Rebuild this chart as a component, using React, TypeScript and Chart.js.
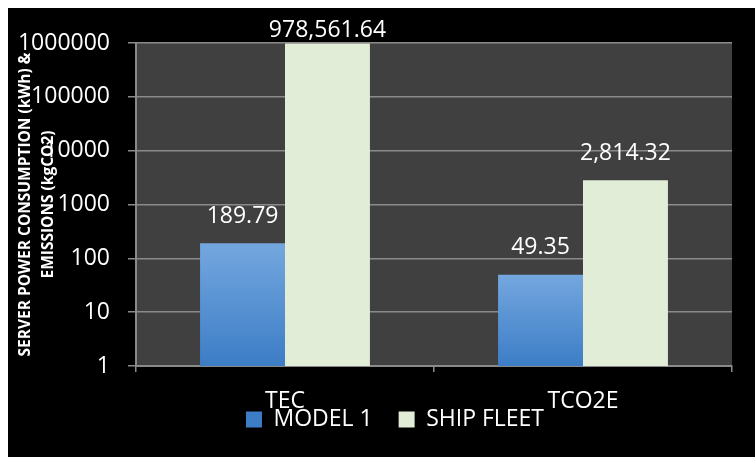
import React, { useEffect, useRef } from "react";
import { Chart, registerables } from "chart.js";

Chart.register(...registerables);

const categories = ["TEC", "TCO2E"];
const seriesNames = ["MODEL 1", "SHIP FLEET"];
const model1 = [189.79, 49.35];
const shipFleet = [978561.64, 2814.32];
const yTicks = [1, 10, 100, 1000, 10000, 100000, 1000000];
const yTitle = ["SERVER POWER CONSUMPTION (kWh) &", "EMISSIONS (kgCO2)"];

const FONT = "'Open Sans', 'Liberation Sans', sans-serif";
const GRID = "#8a8a8a";
const PLOT_BG = "#404040";

const fmt = (v: number) =>
  v.toLocaleString("en-US", { minimumFractionDigits: 2, maximumFractionDigits: 2 });

// vertical gradient for each blue bar, light at the top, deeper at the base
function blueFill(c: any) {
  const chart = c.chart;
  const area = chart.chartArea;
  if (!area || c.type !== "data" || c.raw == null) return "#4f8ad2";
  const top = chart.scales.y.getPixelForValue(c.raw);
  const g = chart.ctx.createLinearGradient(0, top, 0, area.bottom);
  g.addColorStop(0, "#74a7df");
  g.addColorStop(1, "#3c7dc6");
  return g;
}

const plotBackground = {
  id: "plotBackground",
  beforeDraw(chart: any) {
    const { ctx, chartArea: a } = chart;
    if (!a) return;
    ctx.save();
    ctx.fillStyle = PLOT_BG;
    ctx.fillRect(a.left, a.top, a.right - a.left, a.bottom - a.top);
    ctx.restore();
  },
};

const valueLabels = {
  id: "valueLabels",
  afterDatasetsDraw(chart: any) {
    const { ctx, chartArea } = chart;
    ctx.save();
    ctx.font = `23px ${FONT}`;
    ctx.fillStyle = "#ffffff";
    ctx.textAlign = "center";
    ctx.textBaseline = "middle";
    chart.data.datasets.forEach((ds: any, di: number) => {
      chart.getDatasetMeta(di).data.forEach((el: any, i: number) => {
        const y = Math.max(el.y - 27, chartArea.top - 13);
        ctx.fillText(fmt(ds.data[i]), el.x, y);
      });
    });
    ctx.restore();
  },
};

// pulls the legend up snug under the category labels and a bit right of centre;
// only the top edge moves so the legend's clip box still covers its items
const legendOffset = {
  id: "legendOffset",
  afterLayout(chart: any) {
    const lg = chart.legend;
    if (lg) {
      lg.left += 25;
      lg.right += 25;
      lg.top -= 32;
    }
  },
};

export default function App() {
  const canvasRef = useRef<HTMLCanvasElement | null>(null);

  useEffect(() => {
    if (!canvasRef.current) return;
    const chart = new Chart(canvasRef.current, {
      type: "bar",
      data: {
        labels: categories,
        datasets: [
          {
            label: seriesNames[0],
            data: model1,
            backgroundColor: blueFill as any,
            borderWidth: 0,
          },
          {
            label: seriesNames[1],
            data: shipFleet,
            backgroundColor: "#e1edd7",
            borderWidth: 0,
          },
        ],
      },
      options: {
        animation: false,
        responsive: false,
        devicePixelRatio: 1,
        layout: { padding: { top: 35, right: 23, bottom: 18, left: 0 } },
        datasets: {
          bar: { categoryPercentage: 0.57, barPercentage: 1 },
        },
        scales: {
          x: {
            type: "category",
            offset: true,
            grid: {
              display: true,
              offset: true,
              drawOnChartArea: false,
              drawTicks: true,
              tickLength: 6,
              color: GRID,
              lineWidth: 1.5,
            },
            border: { display: true, color: GRID, width: 2 },
            ticks: {
              color: "#ffffff",
              font: { family: FONT, size: 23 },
              padding: 16,
              maxRotation: 0,
              autoSkip: false,
            },
            afterFit(s: any) {
              s.height = 48;
            },
          },
          y: {
            type: "logarithmic",
            min: 1,
            max: 1000000,
            afterBuildTicks(s: any) {
              s.ticks = yTicks.map((v) => ({ value: v }));
            },
            ticks: {
              color: "#ffffff",
              font: { family: FONT, size: 23 },
              padding: 18,
              autoSkip: false,
              callback: (v: any) => String(v),
            },
            grid: {
              color: GRID,
              lineWidth: 1.5,
              tickLength: 8,
              drawTicks: true,
            },
            border: { display: true, color: GRID, width: 2 },
            title: {
              display: true,
              text: yTitle,
              color: "#ffffff",
              font: { family: FONT, size: 15.5, weight: "bold", lineHeight: 1.5 },
              padding: { top: 6, bottom: 0 },
            },
            afterFit(s: any) {
              s.width = 128;
            },
          },
        },
        plugins: {
          legend: {
            position: "bottom",
            maxHeight: 25,
            labels: {
              color: "#ffffff",
              font: { family: FONT, size: 23 },
              boxWidth: 16,
              boxHeight: 16,
              padding: 26,
            },
          },
          tooltip: { enabled: false },
        },
      },
      plugins: [plotBackground, valueLabels, legendOffset],
    });
    return () => chart.destroy();
  }, []);

  return (
    <div
      style={{
        position: "absolute",
        left: 8,
        top: 8,
        width: 747,
        height: 449,
        background: "#000000",
      }}
    >
      <canvas ref={canvasRef} width={747} height={449} style={{ display: "block" }} />
    </div>
  );
}
